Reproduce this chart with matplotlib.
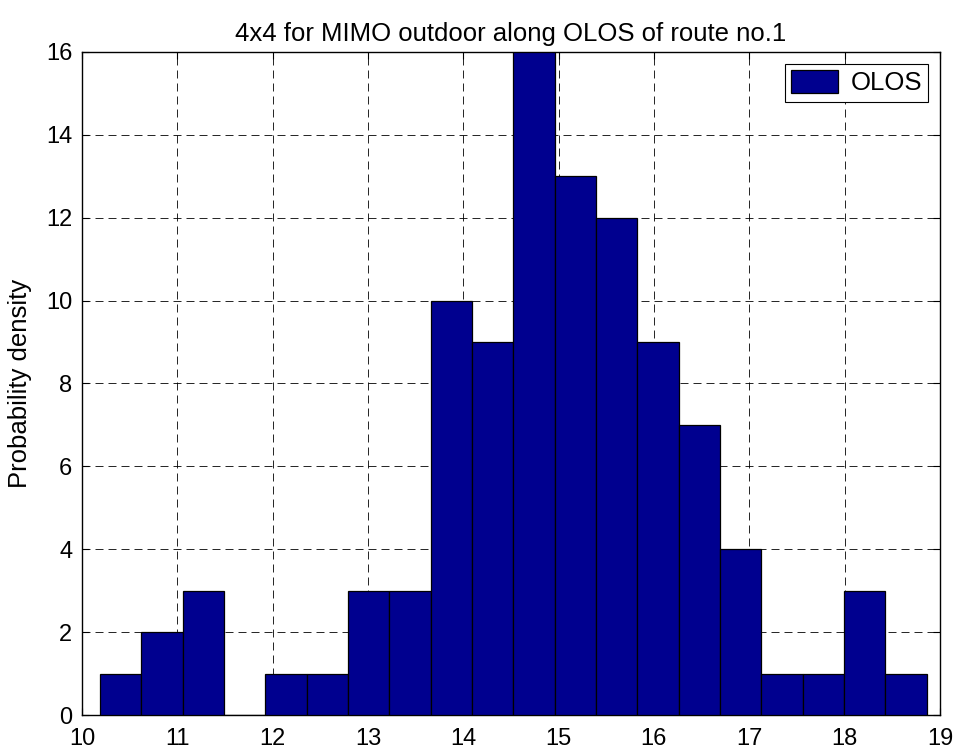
import matplotlib
matplotlib.use("Agg")
import matplotlib.pyplot as plt
import numpy as np

plt.rcParams["font.family"] = ["Liberation Sans", "DejaVu Sans"]

# histogram counts (20 equal bins)
counts = [1, 2, 3, 0, 1, 1, 3, 3, 10, 9, 16, 13, 12, 9, 7, 4, 1, 1, 3, 1]
x_min = 10.19
x_max = 18.86
xticks = [10, 11, 12, 13, 14, 15, 16, 17, 18, 19]
yticks = [0, 2, 4, 6, 8, 10, 12, 14, 16]

edges = np.linspace(x_min, x_max, len(counts) + 1)
width = edges[1] - edges[0]

fs = 18.5
tfs = 17

fig = plt.figure(figsize=(9.58, 7.52), dpi=100)
ax = fig.add_axes([0.0856, 0.0492, 0.8955, 0.8817])

ax.bar(edges[:-1], counts, width=width, align="edge", color=(0, 0, 0.5625),
       edgecolor="black", linewidth=0.9, label="OLOS", zorder=3)

ax.set_xlim(10, 19)
ax.set_ylim(0, 16)
ax.set_xticks(xticks)
ax.set_yticks(yticks)
ax.grid(True, linestyle=(0, (9.6, 6)), color="black", linewidth=0.6, zorder=0)
ax.set_axisbelow(True)
ax.tick_params(direction="in", top=True, right=True, length=5, labelsize=tfs)
ax.tick_params(axis="x", pad=9)
ax.tick_params(axis="y", pad=7)
for s in ax.spines.values():
    s.set_linewidth(1.0)

ax.set_ylabel("Probability density", fontsize=fs, labelpad=10)
ax.set_title("4x4 for MIMO outdoor along OLOS of route no.1", fontsize=fs, pad=8)

leg = ax.legend(loc="upper right", fontsize=fs, fancybox=False, framealpha=1,
                edgecolor="black", borderaxespad=0.45, handlelength=1.8,
                handleheight=1.0, borderpad=0.25, handletextpad=0.5)
leg.get_frame().set_linewidth(0.8)

fig.savefig("out.png", dpi=100)
